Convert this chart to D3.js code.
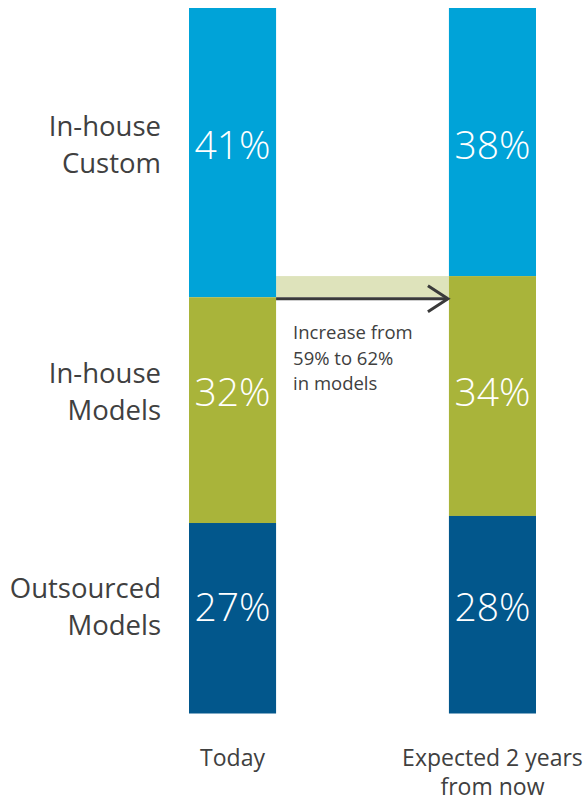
<!DOCTYPE html>
<html>
<head>
<meta charset="utf-8">
<script src="https://cdn.jsdelivr.net/npm/d3@7"></script>
<style>
  html, body { margin: 0; padding: 0; background: #fff; }
  svg { display: block; font-family: "Open Sans", "Noto Sans", sans-serif; }
</style>
</head>
<body>
<svg id="chart" width="585" height="801"></svg>
<script>
const periods = ["Today", "Expected 2 years from now"];
const periodLines = [["Today"], ["Expected 2 years", "from now"]];
const segments = ["In-house Custom", "In-house Models", "Outsourced Models"];
const segmentLines = [["In-house", "Custom"], ["In-house", "Models"], ["Outsourced", "Models"]];
const inhouseCustom = [41, 38];
const inhouseModels = [32, 34];
const outsourcedModels = [27, 28];
const colors = ["#00a3d8", "#a9b43a", "#02578c"];
const annotation = ["Increase from", "59% to 62%", "in models"];

const series = [inhouseCustom, inhouseModels, outsourcedModels];
const svg = d3.select("#chart");
const textColor = "#404040";

const x = d3.scaleBand().domain(periods).range([189, 536]).paddingInner(0.665).paddingOuter(0);
const y = d3.scaleLinear().domain([0, 100]).range([8, 713.5]);

// Build stacked table (top-down)
const table = periods.map((p, i) => {
  const row = { period: p };
  segments.forEach((s, j) => row[s] = series[j][i]);
  return row;
});
const stack = d3.stack().keys(segments)(table);

// connector band between bars
const b1 = x(periods[0]) + x.bandwidth();
const b2 = x(periods[1]);
const topModelsToday = y(stack[0][0][1]);
const topModelsExp = y(stack[0][1][1]);
svg.append("rect")
  .attr("x", b1).attr("y", topModelsExp)
  .attr("width", b2 - b1).attr("height", topModelsToday - topModelsExp)
  .attr("fill", "#dee3bb");

// bars
stack.forEach((layer, j) => {
  svg.append("g").selectAll("rect").data(layer).join("rect")
    .attr("x", d => x(d.data.period))
    .attr("y", d => y(d[0]))
    .attr("width", x.bandwidth())
    .attr("height", d => y(d[1]) - y(d[0]))
    .attr("fill", colors[j]);
});

// arrow
const ay = topModelsToday + 1.5;
svg.append("line")
  .attr("x1", b1).attr("x2", b2 - 1)
  .attr("y1", ay).attr("y2", ay)
  .attr("stroke", "#3a3a3a").attr("stroke-width", 3);
svg.append("path")
  .attr("d", `M${b2 - 21},${ay - 13} L${b2 - 1},${ay} L${b2 - 21},${ay + 13}`)
  .attr("fill", "none").attr("stroke", "#3a3a3a").attr("stroke-width", 3);

// annotation
svg.append("text")
  .attr("x", b1 + 17)
  .attr("fill", textColor)
  .attr("font-size", 18.5)
  .selectAll("tspan").data(annotation).join("tspan")
  .attr("x", b1 + 17)
  .attr("y", (d, i) => topModelsToday + 42 + i * 25.5)
  .text(d => d);

// row centers: middle of the vertical span covered by the segment across both bars
const rowCenter = stack.map(layer => {
  const lo = d3.min(layer, d => y(d[0]));
  const hi = d3.max(layer, d => y(d[1]));
  return (lo + hi) / 2;
});

// percentage labels
stack.forEach((layer, j) => {
  svg.append("g").selectAll("text").data(layer).join("text")
    .attr("x", d => x(d.data.period) + x.bandwidth() / 2)
    .attr("y", rowCenter[j] + 6)
    .attr("text-anchor", "middle")
    .attr("font-size", 39)
    .attr("font-weight", 300)
    .attr("fill", "#fff")
    .text(d => (d[1] - d[0]) + "%");
});

// left category labels
segmentLines.forEach((lines, j) => {
  svg.append("text")
    .attr("text-anchor", "end")
    .attr("fill", textColor)
    .attr("font-size", 27.5)
    .selectAll("tspan").data(lines).join("tspan")
    .attr("x", 161)
    .attr("y", (d, i) => rowCenter[j] - 16.5 + i * 37)
    .text(d => d);
});

// bottom period labels
periodLines.forEach((lines, i) => {
  const cx = x(periods[i]) + x.bandwidth() / 2;
  svg.append("text")
    .attr("text-anchor", "middle")
    .attr("fill", textColor)
    .attr("font-size", 23)
    .selectAll("tspan").data(lines).join("tspan")
    .attr("x", cx)
    .attr("y", (d, k) => y(100) + 52.5 + k * 29)
    .text(d => d);
});
</script>
</body>
</html>
